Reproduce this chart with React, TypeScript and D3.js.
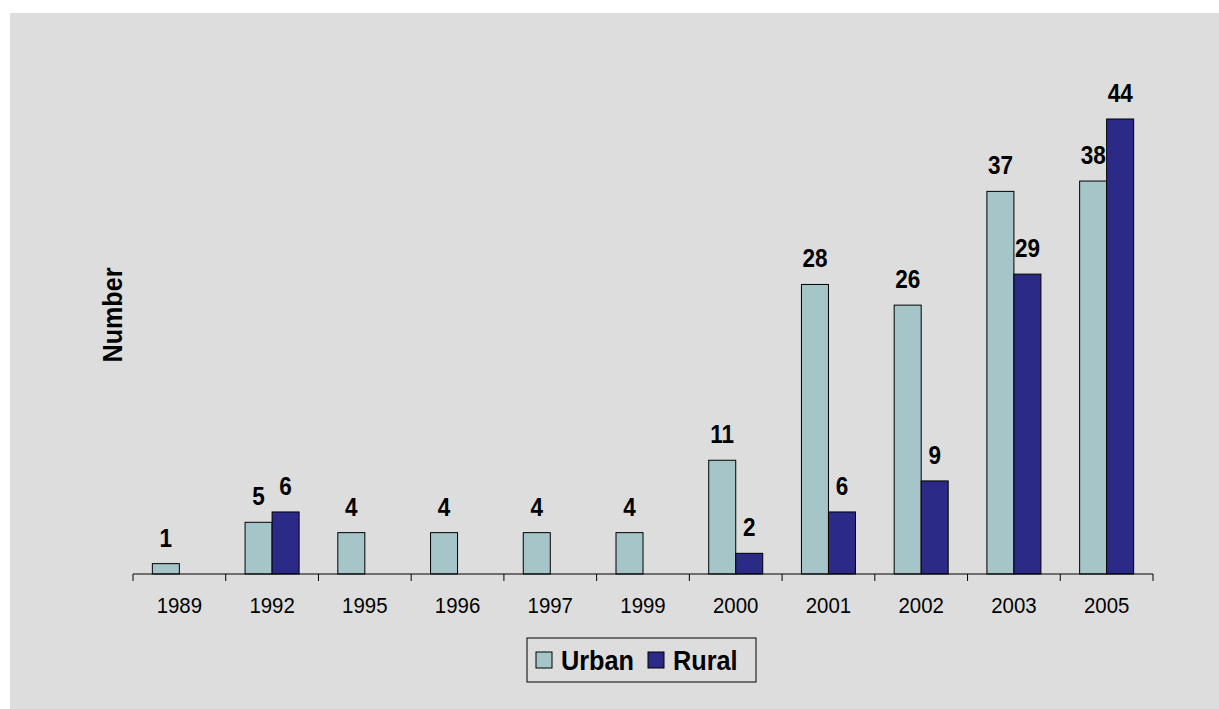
import React from "react";
import * as d3 from "d3";

const years = ["1989", "1992", "1995", "1996", "1997", "1999", "2000", "2001", "2002", "2003", "2005"];
const urban = [1, 5, 4, 4, 4, 4, 11, 28, 26, 37, 38];
const rural: (number | null)[] = [null, 6, null, null, null, null, 2, 6, 9, 29, 44];
const seriesNames = ["Urban", "Rural"];
const seriesColors = ["#a6c5c8", "#2b2a87"];

const W = 1219;
const H = 709;
const left = 133;
const right = 1153;
const baseY = 574;
const topY = 119;

export default function App() {
  const x0 = d3.scaleBand<string>().domain(years).range([left, right]).padding(0);
  const x1 = d3
    .scaleBand<string>()
    .domain(seriesNames)
    .range([0, x0.bandwidth()])
    .paddingInner(0)
    .paddingOuter(0.717);
  const y = d3.scaleLinear().domain([0, 44]).range([baseY, topY]);
  const color = d3.scaleOrdinal<string, string>().domain(seriesNames).range(seriesColors);

  const data = years.map((yr, i) => ({ yr, vals: [urban[i], rural[i]] }));
  const tickXs = [...years.map((yr) => x0(yr) as number), right];
  const font = "Arial, 'Liberation Sans', sans-serif";

  return (
    <svg
      width={W}
      height={H}
      style={{ position: "absolute", left: 0, top: 0, background: "#ffffff" }}
      fontFamily={font}
    >
      <rect x={10} y={13} width={W - 10} height={H - 13} fill="#dddddd" />
      {data.map((d) => (
        <g key={d.yr}>
          {d.vals.map((v, j) => {
            if (v === null || v === undefined) return null;
            const s = seriesNames[j];
            const bx = (x0(d.yr) as number) + (x1(s) as number);
            const bw = x1.bandwidth();
            return (
              <g key={s}>
                <rect
                  x={bx}
                  y={y(v)}
                  width={bw}
                  height={baseY - y(v)}
                  fill={color(s)}
                  stroke="#000"
                  strokeWidth={1}
                />
                <text
                  transform={`translate(${bx + bw / 2},${y(v) - 17}) scale(0.9,1)`}
                  textAnchor="middle"
                  fontSize={25}
                  fontWeight="bold"
                  fill="#000"
                >
                  {v}
                </text>
              </g>
            );
          })}
          <text
            transform={`translate(${(x0(d.yr) as number) + x0.bandwidth() / 2},613) scale(0.95,1)`}
            textAnchor="middle"
            fontSize={21.5}
            fill="#000"
          >
            {d.yr}
          </text>
        </g>
      ))}
      <line x1={left} x2={right} y1={baseY} y2={baseY} stroke="#000" strokeWidth={1} />
      {tickXs.map((tx, i) => (
        <line key={i} x1={tx} x2={tx} y1={baseY} y2={baseY + 7} stroke="#000" strokeWidth={1} />
      ))}
      <text
        transform={`translate(122,315) rotate(-90) scale(0.93,1)`}
        textAnchor="middle"
        fontSize={27}
        fontWeight="bold"
        fill="#000"
      >
        Number
      </text>
      <g>
        <rect x={527} y={638} width={229} height={44} fill="none" stroke="#000" strokeWidth={1} />
        {seriesNames.map((s, i) => {
          const sx = i === 0 ? 536 : 648;
          return (
            <g key={s}>
              <rect x={sx} y={652} width={16} height={16} fill={color(s)} stroke="#000" strokeWidth={1} />
              <text
                transform={`translate(${sx + 25},670) scale(0.92,1)`}
                fontSize={27.5}
                fontWeight="bold"
                fill="#000"
              >
                {s}
              </text>
            </g>
          );
        })}
      </g>
    </svg>
  );
}
